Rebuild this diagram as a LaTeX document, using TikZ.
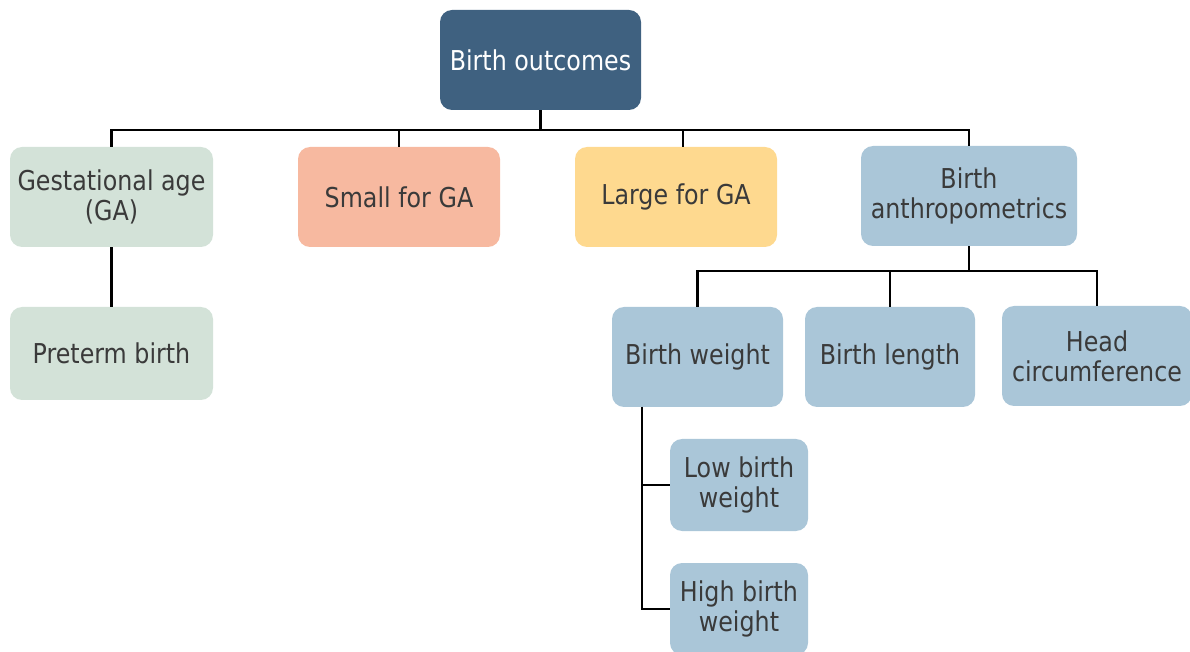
\documentclass[tikz,border=0pt]{standalone}
\usepackage{fontspec}
\setmainfont{DejaVu Sans}[FakeStretch=0.87]
\definecolor{rootc}{HTML}{3F6180}
\definecolor{greenc}{HTML}{D3E2D8}
\definecolor{salmonc}{HTML}{F7B9A0}
\definecolor{yellowc}{HTML}{FED98F}
\definecolor{bluec}{HTML}{AAC6D8}
\definecolor{txtc}{HTML}{3A3A3A}
\begin{document}
\begin{tikzpicture}[x=0.75pt,y=-0.75pt,
  box/.style={rounded corners=9pt, inner sep=0pt, align=center, text=txtc,
    font=\fontsize{20.5}{22.5}\selectfont},
  conn/.style={line width=1.6pt, black}]
\useasboundingbox (0,0) rectangle (1190,652);
\node[box, fill=rootc, text=white, minimum width=150.75pt, minimum height=75pt] (root) at (540.5,60) {Birth outcomes};
\node[box, fill=greenc, minimum width=152.25pt, minimum height=75pt] (ga) at (111.5,197) {Gestational age\\(GA)};
\node[box, fill=salmonc, minimum width=151.5pt, minimum height=75pt] (sga) at (399,197) {Small for GA};
\node[box, fill=yellowc, minimum width=151.5pt, minimum height=75pt] (lga) at (676,197) {Large for GA};
\node[box, fill=bluec, minimum width=162pt, minimum height=75pt] (anth) at (969,196) {Birth\\anthropometrics};
\node[box, fill=greenc, minimum width=152.25pt, minimum height=69.75pt] (pre) at (111.5,353.5) {Preterm birth};
\node[box, fill=bluec, minimum width=128.25pt, minimum height=75pt] (bw) at (697.5,357) {Birth weight};
\node[box, fill=bluec, minimum width=127.5pt, minimum height=75pt] (bl) at (890,357) {Birth length};
\node[box, fill=bluec, minimum width=142.5pt, minimum height=75pt] (hc) at (1097,356) {Head\\circumference};
\node[box, fill=bluec, minimum width=103.5pt, minimum height=69pt] (lbw) at (739,485) {Low birth\\weight};
\node[box, fill=bluec, minimum width=103.5pt, minimum height=69pt] (hbw) at (739,609) {High birth\\weight};
\coordinate (bus1) at (540.5,130);
\coordinate (bus2) at (969,271);
\draw[conn] (root.south) -- (bus1);
\draw[conn] (ga.north) |- (bus1) -| (anth.north);
\draw[conn] (sga.north) -- (sga.north |- bus1);
\draw[conn] (683,147) coordinate (lgatop) -- (lgatop |- bus1);
\draw[conn] (ga.south) -- (pre.north);
\draw[conn] (anth.south) -- (bus2);
\draw[conn] (bw.north) |- (bus2) -| (hc.north);
\draw[conn] (bl.north) -- (bl.north |- bus2);
\coordinate (bwl) at (642,407);
\draw[conn] (bwl) |- (lbw.west);
\draw[conn] (bwl) |- (hbw.west);
\end{tikzpicture}
\end{document}
